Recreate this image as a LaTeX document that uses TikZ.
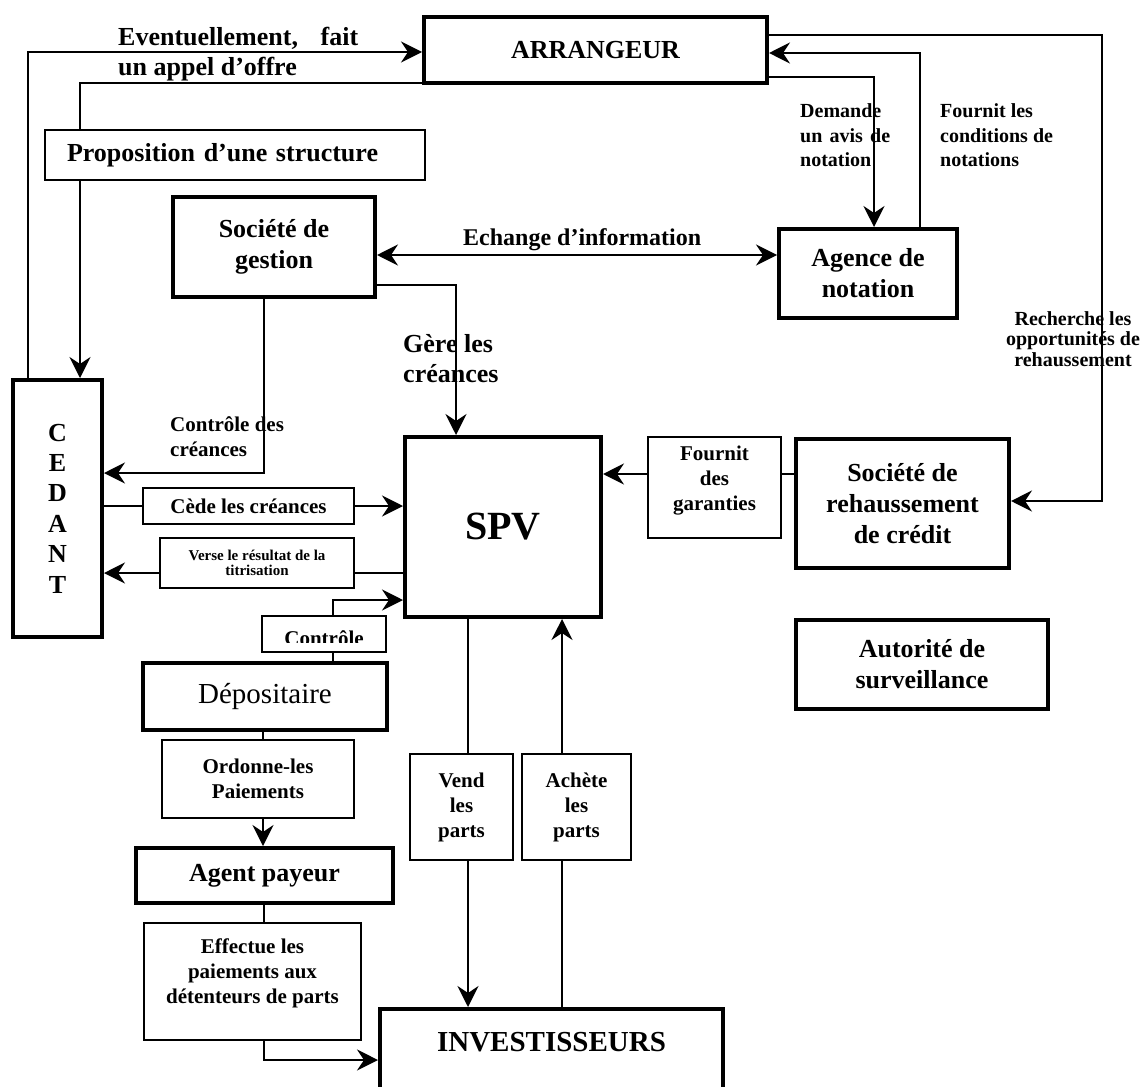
\documentclass[tikz,border=0pt]{standalone}
\usepackage{fontspec}
\setmainfont{Liberation Serif}
\usetikzlibrary{arrows.meta}

\begin{document}
\begin{tikzpicture}[
  x=1pt, y=-1pt,
  acteur/.style={draw, line width=4pt, align=center, inner sep=2pt, font=\fontsize{26}{31}\selectfont\bfseries},
  etiq/.style={draw, line width=1.6pt, align=center, inner sep=2pt, font=\fontsize{21}{25}\selectfont\bfseries},
  libre/.style={align=left, inner sep=0pt, font=\fontsize{20}{24.5}\selectfont\bfseries},
  fl/.style={line width=1.8pt},
  arr/.style={fl, -{Stealth[length=21pt, width=21pt, inset=7pt]}},
  dbl/.style={fl, {Stealth[length=21pt, width=21pt, inset=7pt]}-{Stealth[length=21pt, width=21pt, inset=7pt]}}
]
\useasboundingbox (0,0) rectangle (1147,1086);
\clip (0,0) rectangle (1147,1086);

\node[acteur, minimum width=343pt, minimum height=66pt] (arrangeur) at (595.5,50) {ARRANGEUR};
\node[acteur, minimum width=89pt, minimum height=257pt, font=\fontsize{26}{30.4}\selectfont\bfseries] (cedant) at (57.5,508.5) {C\\E\\D\\A\\N\\T};
\node[acteur, minimum width=202pt, minimum height=100pt] (gestion) at (274,247) {Société de\\gestion};
\node[acteur, minimum width=178pt, minimum height=89pt] (agence) at (868,273.5) {Agence de\\notation};
\node[acteur, minimum width=213pt, minimum height=129pt] (rehauss) at (902.5,503.5) {Société de\\rehaussement\\de crédit};
\node[acteur, minimum width=252pt, minimum height=89pt] (autorite) at (922,664.5) {Autorité de\\surveillance};
\node[acteur, minimum width=196pt, minimum height=180pt, font=\fontsize{40}{48}\selectfont\bfseries] (spv) at (503,527) {SPV};
\node[acteur, minimum width=244pt, minimum height=67pt, font=\fontsize{29}{34}\selectfont] (depos) at (265,696.5) {Dépositaire};
\node[acteur, minimum width=257pt, minimum height=55pt] (payeur) at (264.5,875.5) {Agent payeur};
\node[acteur, anchor=north, minimum width=343pt, inner ysep=23pt, text depth=70pt, font=\fontsize{29}{34}\selectfont\bfseries] (invest) at (551.5,1007) {INVESTISSEURS};

\node[etiq, minimum width=380pt, minimum height=50pt, text width=336pt, align=left, inner xsep=22pt, font=\fontsize{26}{31}\selectfont\bfseries] (propo) at (235,155) {Proposition d’une structure};
\node[etiq, minimum width=211pt, minimum height=36pt] (cede) at (248.5,506) {Cède les créances};
\node[etiq, minimum width=194pt, minimum height=50pt, font=\fontsize{15}{14.5}\selectfont\bfseries] (verse) at (257,563) {Verse le résultat de la\\titrisation};
\node[etiq, minimum width=124pt, minimum height=36pt] (ctrl) at (324,634) {};
\node[etiq, minimum width=192pt, minimum height=78pt] (ordonne) at (258,779) {Ordonne-les\\Paiements};
\node[etiq, minimum width=217pt, minimum height=117pt] (effectue) at (252.5,981.5) {Effectue les\\paiements aux\\détenteurs de parts\\[-4pt]\mbox{}};
\node[etiq, minimum width=103pt, minimum height=106pt] (vend) at (461.5,807) {Vend\\les\\parts};
\node[etiq, minimum width=109pt, minimum height=106pt] (achete) at (576.5,807) {Achète\\les\\parts};
\node[etiq, minimum width=133pt, minimum height=101pt] (garant) at (714.5,487.5) {Fournit\\des\\garanties\\[-6pt]\mbox{}};

\begin{scope}
\clip (ctrl.north west) rectangle (ctrl.east |- 0,642);
\node[font=\fontsize{21}{25}\selectfont\bfseries, anchor=base, inner sep=0pt] (ctrltxt) at (324,645) {Contrôle};
\end{scope}

\node[libre, anchor=west, font=\fontsize{26}{30}\selectfont\bfseries] (lappel) at (118,54) {\makebox[240pt][s]{Eventuellement, fait}\\un appel d’offre};
\node[libre, anchor=west, font=\fontsize{21}{25}\selectfont\bfseries] (lctrl) at (170,437) {Contrôle des\\créances};
\node[libre, anchor=base west, font=\fontsize{24}{29}\selectfont\bfseries] (lechange) at (463,245) {Echange d’information};
\node[libre, anchor=west, font=\fontsize{26}{30}\selectfont\bfseries] (lgere) at (403,359) {Gère les\\créances};
\node[libre, anchor=west] (ldemande) at (800,135.5) {Demande\\\makebox[90pt][s]{un avis de}\\notation};
\node[libre, anchor=west] (lfournit) at (940,135.5) {Fournit les\\conditions de\\notations};
\node[libre, align=center, font=\fontsize{20}{20.5}\selectfont\bfseries] (lrecherche) at (1073,339) {Recherche les\\opportunités de\\rehaussement};

\coordinate (kO) at (28,52);
\coordinate (kP) at (80,83);
\coordinate (kC) at (264,473);
\coordinate (kE) at (0,255);
\coordinate (kG) at (456,285);
\coordinate (kD) at (874,77);
\coordinate (kF) at (920,53);
\coordinate (kR1) at (1102,35);
\coordinate (kR2) at (1102,501);
\coordinate (kA) at (0,474);
\coordinate (kV) at (0,573);
\coordinate (kT) at (333,600);
\coordinate (kOr) at (263,0);
\coordinate (kEf) at (264,1060);
\coordinate (kS) at (468,0);
\coordinate (kB) at (562,0);

\draw[arr] (cedant.north -| kO) -- (kO) -- (arrangeur.west |- kO);
\draw[fl] (kP -| arrangeur.west) -- (kP) -- (propo.north -| kP);
\draw[arr] (propo.south -| kP) -- (cedant.north -| kP);
\draw[arr] (gestion.south -| kC) -- (kC) -- (cedant.east |- kC);
\draw[dbl] (gestion.east |- kE) -- (agence.west |- kE);
\draw[arr] (gestion.east |- kG) -- (kG) -- (spv.north -| kG);
\draw[arr] (arrangeur.east |- kD) -- (kD) -- (agence.north -| kD);
\draw[arr] (agence.north -| kF) -- (kF) -- (arrangeur.east |- kF);
\draw[arr] (arrangeur.east |- kR1) -- (kR1) -- (kR2) -- (rehauss.east |- kR2);
\draw[fl] (rehauss.west |- kA) -- (garant.east |- kA);
\draw[arr] (garant.west |- kA) -- (spv.east |- kA);
\draw[fl] (cedant.east |- cede.west) -- (cede.west);
\draw[arr] (cede.east) -- (spv.west |- cede.east);
\draw[fl] (spv.west |- kV) -- (verse.east |- kV);
\draw[arr] (verse.west |- kV) -- (cedant.east |- kV);
\draw[fl] (depos.north -| kT) -- (ctrl.south -| kT);
\draw[arr] (ctrl.north -| kT) -- (kT) -- (spv.west |- kT);
\draw[fl] (depos.south -| kOr) -- (ordonne.north -| kOr);
\draw[arr] (ordonne.south -| kOr) -- (payeur.north -| kOr);
\draw[fl] (payeur.south -| kEf) -- (effectue.north -| kEf);
\draw[arr] (effectue.south -| kEf) -- (kEf) -- (invest.west |- kEf);
\draw[fl] (spv.south -| kS) -- (vend.north -| kS);
\draw[arr] (vend.south -| kS) -- (invest.north -| kS);
\draw[fl] (invest.north -| kB) -- (achete.south -| kB);
\draw[arr] (achete.north -| kB) -- (spv.south -| kB);
\end{tikzpicture}
\end{document}
